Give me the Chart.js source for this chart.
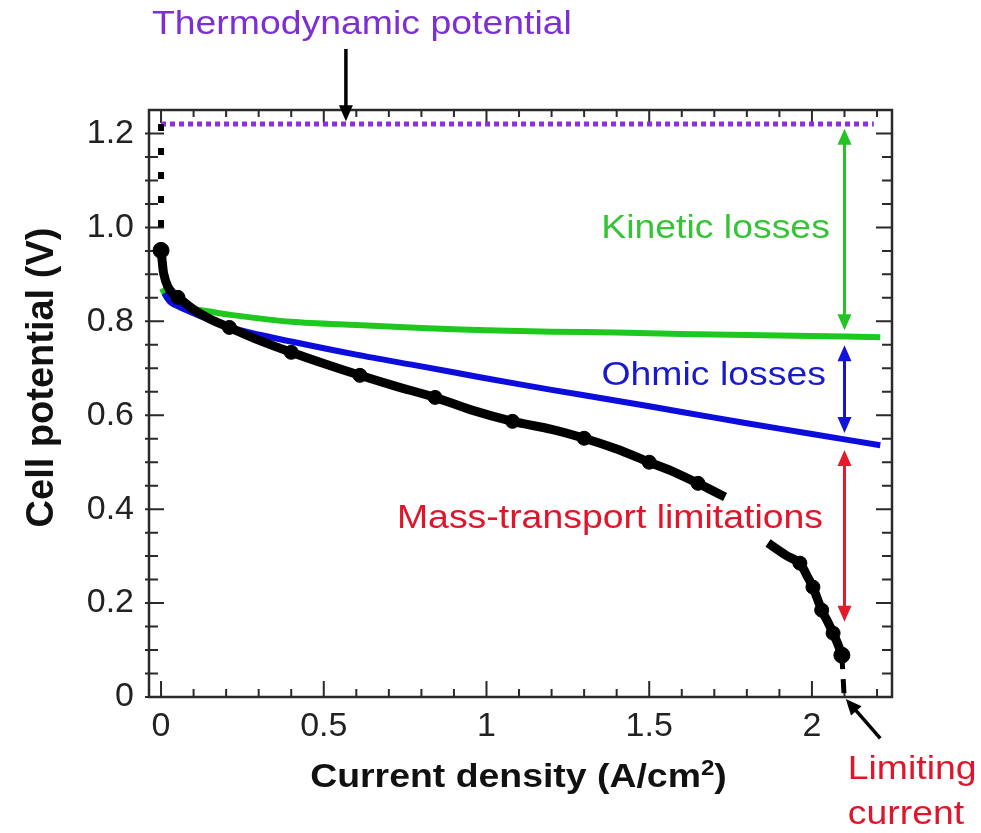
<!DOCTYPE html>
<html>
<head>
<meta charset="utf-8">
<title>Fuel cell polarization curve</title>
<script src="https://cdn.jsdelivr.net/npm/chart.js@4.4.1/dist/chart.umd.min.js"></script>
<style>
  html, body { margin: 0; padding: 0; background: #fff; }
  #wrap { width: 981px; height: 833px; }
</style>
</head>
<body>
<div id="wrap"><canvas id="polarization"></canvas></div>
<script>
const FAMILY = "'Liberation Sans', Arial, sans-serif";

// axis ticks
const xTickValues = [0, 0.5, 1, 1.5, 2];
const yTickValues = [0, 0.2, 0.4, 0.6, 0.8, 1.0, 1.2];

// thermodynamic potential (dotted line)
const thermoX = [0, 2.19];
const thermoV = [1.22, 1.22];

// after kinetic losses (green)
const kineticX = [0.003, 0.02, 0.05, 0.1, 0.14, 0.2, 0.4, 0.6, 0.8, 1.0, 1.2, 1.4, 1.6, 1.8, 2.0, 2.21];
const kineticV = [0.87, 0.848, 0.834, 0.826, 0.822, 0.815, 0.799, 0.792, 0.786, 0.781, 0.778, 0.776, 0.773, 0.771, 0.769, 0.766];

// after ohmic losses (blue)
const ohmicX = [0.01, 0.03, 0.068, 0.15, 0.243, 0.4, 0.6, 0.8, 0.98, 1.2, 1.4, 1.6, 1.8, 2.0, 2.21];
const ohmicV = [0.86, 0.84, 0.827, 0.803, 0.781, 0.757, 0.729, 0.704, 0.681, 0.654, 0.631, 0.607, 0.583, 0.56, 0.536];

// measured curve (black), null = hidden behind the label
const measuredX = [0, 0.004, 0.008, 0.02, 0.035, 0.052, 0.1, 0.15, 0.21, 0.3, 0.4, 0.5, 0.611, 0.72, 0.842, 0.95, 1.08, 1.2, 1.3, 1.4, 1.5, 1.58, 1.65, 1.733, 1.8, 1.865, 1.92, 1.963, 1.985, 2.003, 2.03, 2.05, 2.065, 2.08, 2.092];
const measuredV = [0.951, 0.925, 0.902, 0.875, 0.86, 0.851, 0.825, 0.805, 0.787, 0.76, 0.734, 0.71, 0.685, 0.662, 0.638, 0.612, 0.587, 0.57, 0.551, 0.528, 0.5, 0.478, 0.455, 0.426, null, 0.328, 0.302, 0.285, 0.258, 0.234, 0.185, 0.158, 0.136, 0.112, 0.089];

// blobs on the measured curve
const markerX = [0, 0.052, 0.21, 0.4, 0.611, 0.842, 1.08, 1.3, 1.5, 1.65, 1.963, 2.003, 2.03, 2.065, 2.092];
const markerV = [0.951, 0.851, 0.787, 0.734, 0.685, 0.638, 0.587, 0.551, 0.5, 0.455, 0.285, 0.234, 0.185, 0.136, 0.089];

// dashed extrapolations
const ocvX = [0, 0];
const ocvV = [1.22, 0.951];
const limitX = [2.092, 2.1];
const limitV = [0.089, -0.012];

// loss arrows at one current
const lossArrowCurrent = 2.1;
const lossArrowTop = [1.21, 0.749, 0.526];
const lossArrowBottom = [0.781, 0.562, 0.16];
const lossArrowColors = ['#24c424', '#1414d8', '#e31b2a'];

// black pointers
const thermoPointerX = [0.568, 0.568];
const thermoPointerV = [1.38, 1.226];
const limitPointerX = [2.21, 2.104];
const limitPointerV = [-0.088, -0.004];

// annotation text
const labelTexts = ['Thermodynamic potential', 'Kinetic losses', 'Ohmic losses', 'Mass-transport limitations', 'Limiting', 'current'];
const labelX = [0.617, 2.055, 2.043, 2.034, 2.11, 2.11];
const labelV = [1.432, 0.998, 0.685, 0.379, -0.155, -0.251];
const labelAlign = ['center', 'right', 'right', 'right', 'left', 'left'];
const labelColors = ['#7d2fd6', '#36c436', '#1a1acc', '#e0152a', '#e0152a', '#e0152a'];

const STRETCH = 1.1;

function pts(xs, vs) {
    return xs.map((c, i) => ({ x: c, y: vs[i] }));
}

function arrowHead(ctx, tx, ty, ang) {
    const len = 16, half = 7;
    const c = Math.cos(ang), s = Math.sin(ang);
    ctx.beginPath();
    ctx.moveTo(tx, ty);
    ctx.lineTo(tx - len * c + half * s, ty - len * s - half * c);
    ctx.lineTo(tx - len * c - half * s, ty - len * s + half * c);
    ctx.closePath();
    ctx.fill();
}

function drawArrow(ctx, x1, y1, x2, y2, color, width, both) {
    const ang = Math.atan2(y2 - y1, x2 - x1);
    const c = Math.cos(ang), s = Math.sin(ang);
    ctx.save();
    ctx.strokeStyle = color;
    ctx.fillStyle = color;
    ctx.lineWidth = width;
    ctx.beginPath();
    ctx.moveTo(both ? x1 + 8 * c : x1, both ? y1 + 8 * s : y1);
    ctx.lineTo(x2 - 8 * c, y2 - 8 * s);
    ctx.stroke();
    arrowHead(ctx, x2, y2, ang);
    if (both) arrowHead(ctx, x1, y1, ang + Math.PI);
    ctx.restore();
}

function stretchedText(ctx, text, x, y, align, color, font) {
    ctx.save();
    ctx.translate(x, y);
    ctx.scale(STRETCH, 1);
    ctx.font = font;
    ctx.fillStyle = color;
    ctx.textAlign = align;
    ctx.textBaseline = 'middle';
    ctx.fillText(text, 0, 0);
    ctx.restore();
}

const decorations = {
    id: 'decorations',
    beforeDatasetsDraw(chart) {
        const { ctx, chartArea: a, scales: { x, y } } = chart;
        ctx.save();
        ctx.strokeStyle = '#2a2a2a';
        ctx.lineWidth = 2;
        ctx.beginPath();
        // x ticks every 0.1, inward on bottom and top
        for (let i = 0; i <= 22; i++) {
            const p = x.getPixelForValue(i / 10);
            const major = i % 5 === 0;
            ctx.moveTo(p, a.bottom);
            ctx.lineTo(p, a.bottom - (major ? 16 : 8));
            ctx.moveTo(p, a.top);
            ctx.lineTo(p, a.top + (major ? 13 : 7));
        }
        // y ticks every 0.05, inward on left and right
        for (let i = 0; i <= 24; i++) {
            const p = y.getPixelForValue(i * 0.05);
            const major = i % 4 === 0;
            ctx.moveTo(a.left - 4, p);
            ctx.lineTo(a.left + (major ? 15 : 9), p);
            ctx.moveTo(a.right, p);
            ctx.lineTo(a.right - (major ? 16 : 10), p);
        }
        ctx.stroke();
        ctx.lineWidth = 2.5;
        ctx.strokeRect(a.left, a.top, a.right - a.left, a.bottom - a.top);
        ctx.restore();
    },
    afterDraw(chart) {
        const { ctx, chartArea: a, scales: { x, y } } = chart;

        // double arrows showing each loss
        const ax = x.getPixelForValue(lossArrowCurrent);
        lossArrowColors.forEach((color, i) => {
            drawArrow(ctx, ax, y.getPixelForValue(lossArrowTop[i]), ax, y.getPixelForValue(lossArrowBottom[i]), color, 3, true);
        });

        drawArrow(ctx, x.getPixelForValue(thermoPointerX[0]), y.getPixelForValue(thermoPointerV[0]),
            x.getPixelForValue(thermoPointerX[1]), y.getPixelForValue(thermoPointerV[1]), '#000', 3.5, false);
        drawArrow(ctx, x.getPixelForValue(limitPointerX[0]), y.getPixelForValue(limitPointerV[0]),
            x.getPixelForValue(limitPointerX[1]), y.getPixelForValue(limitPointerV[1]), '#000', 3.5, false);

        // annotation labels
        labelTexts.forEach((t, i) => {
            stretchedText(ctx, t, x.getPixelForValue(labelX[i]), y.getPixelForValue(labelV[i]),
                labelAlign[i], labelColors[i], `34px ${FAMILY}`);
        });

        // x axis title with superscript
        ctx.save();
        ctx.translate((a.left + a.right) / 2 - 2, a.bottom + 81);
        ctx.scale(STRETCH, 1);
        ctx.fillStyle = '#111';
        ctx.textBaseline = 'middle';
        ctx.textAlign = 'left';
        const mainFont = `bold 34px ${FAMILY}`, supFont = `bold 22px ${FAMILY}`;
        ctx.font = mainFont;
        const wMain = ctx.measureText('Current density (A/cm').width;
        const wTail = ctx.measureText(')').width;
        ctx.font = supFont;
        const wSup = ctx.measureText('2').width;
        let cx = -(wMain + wSup + wTail) / 2;
        ctx.font = mainFont;
        ctx.fillText('Current density (A/cm', cx, 0);
        cx += wMain;
        ctx.font = supFont;
        ctx.fillText('2', cx, -9);
        cx += wSup;
        ctx.font = mainFont;
        ctx.fillText(')', cx, 0);
        ctx.restore();

        // y axis title
        ctx.save();
        ctx.translate(43, (a.top + a.bottom) / 2 - 26);
        ctx.rotate(-Math.PI / 2);
        ctx.font = `bold 38px ${FAMILY}`;
        ctx.fillStyle = '#111';
        ctx.textAlign = 'center';
        ctx.textBaseline = 'middle';
        ctx.fillText('Cell potential (V)', 0, 0);
        ctx.restore();
    }
};

Chart.defaults.font.family = FAMILY;

new Chart(document.getElementById('polarization'), {
    type: 'line',
    data: {
        datasets: [
            {
                label: 'Thermodynamic potential',
                data: pts(thermoX, thermoV),
                borderColor: '#8b2fe0',
                borderWidth: 5,
                borderDash: [5, 4],
                pointRadius: 0,
                order: 5
            },
            {
                label: 'Kinetic',
                data: pts(kineticX, kineticV),
                borderColor: '#1ec81e',
                borderWidth: 6,
                tension: 0.3,
                pointRadius: 0,
                order: 4
            },
            {
                label: 'Ohmic',
                data: pts(ohmicX, ohmicV),
                borderColor: '#0c0cdc',
                borderWidth: 6,
                tension: 0.3,
                pointRadius: 0,
                order: 3
            },
            {
                label: 'Measured',
                data: pts(measuredX, measuredV),
                borderColor: '#000',
                borderWidth: 9,
                tension: 0.25,
                spanGaps: false,
                pointRadius: 0,
                order: 2
            },
            {
                label: 'Measured points',
                data: pts(markerX, markerV),
                showLine: false,
                backgroundColor: '#000',
                borderColor: '#000',
                pointRadius: ctx => (ctx.dataIndex === 0 || ctx.dataIndex === markerX.length - 1) ? 8 : 7,
                order: 1
            },
            {
                label: 'OCV',
                data: pts(ocvX, ocvV),
                borderColor: '#000',
                borderWidth: 6,
                borderDash: [7, 17],
                pointRadius: 0,
                order: 1
            },
            {
                label: 'Limit',
                data: pts(limitX, limitV),
                borderColor: '#000',
                borderWidth: 5,
                borderDash: [14, 10],
                pointRadius: 0,
                clip: false,
                order: 1
            }
        ]
    },
    options: {
        responsive: true,
        maintainAspectRatio: false,
        animation: false,
        events: [],
        layout: { padding: { top: 110, right: 89, left: 0, bottom: 0 } },
        plugins: {
            legend: { display: false },
            tooltip: { enabled: false }
        },
        scales: {
            x: {
                type: 'linear',
                min: -0.037,
                max: 2.246,
                grid: { display: false, drawTicks: false },
                border: { display: false },
                afterBuildTicks: scale => { scale.ticks = xTickValues.map(v => ({ value: v })); },
                afterFit: scale => { scale.height = 136; },
                ticks: {
                    autoSkip: false,
                    maxRotation: 0,
                    padding: 9,
                    color: '#222',
                    font: { size: 34 },
                    callback: v => String(v)
                }
            },
            y: {
                min: 0,
                max: 1.25,
                grid: { display: false, drawTicks: false },
                border: { display: false },
                afterBuildTicks: scale => { scale.ticks = yTickValues.map(v => ({ value: v })); },
                afterFit: scale => { scale.width = 149; },
                ticks: {
                    autoSkip: false,
                    padding: 15,
                    color: '#222',
                    font: { size: 34 },
                    callback: v => v === 0 ? '0' : v.toFixed(1)
                }
            }
        }
    },
    plugins: [decorations]
});
</script>
</body>
</html>
